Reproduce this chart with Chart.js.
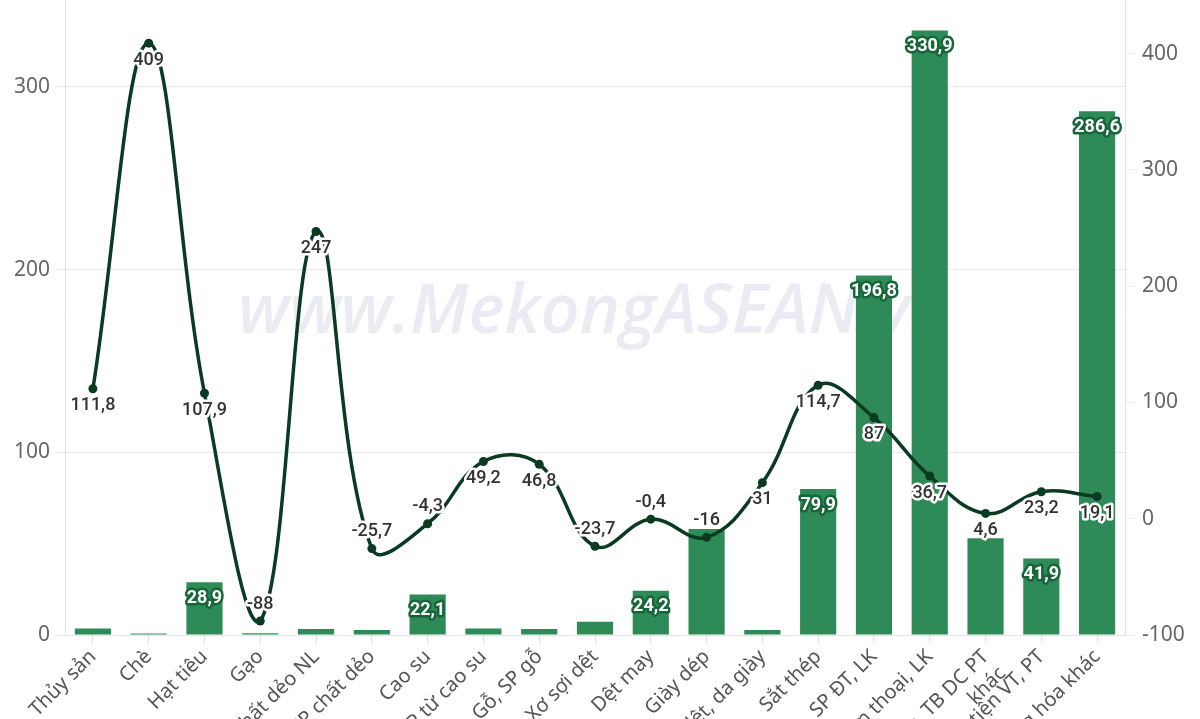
<!DOCTYPE html>
<html><head><meta charset="utf-8">
<script src="https://cdn.jsdelivr.net/npm/chart.js@4"></script>
<style>
html,body{margin:0;padding:0;background:#fff;overflow:hidden;width:1200px;height:719px;}
#wrap{position:absolute;left:0;top:-9px;width:1200px;height:900px;}
</style></head><body>
<div id="wrap"><canvas id="c" width="1200" height="900"></canvas></div>
<script>
const categories = ["Thủy sản","Chè","Hạt tiêu","Gạo","Chất dẻo NL","SP chất dẻo","Cao su","SP từ cao su","Gỗ, SP gỗ","Xơ sợi dệt","Dệt may","Giày dép","NPL dệt, da giày","Sắt thép","Máy vi tính, SP ĐT, LK","Điện thoại, LK",["Máy móc, TB DC PT","khác"],"Phương tiện VT, PT","Hàng hóa khác"];
const barValues = [3.6,0.8,28.9,0.9,3.3,2.7,22.1,3.6,3.3,7.2,24.2,58,2.7,79.9,196.8,330.9,53,41.9,286.6];
const lineValues = [111.8,409,107.9,-88,247,-25.7,-4.3,49.2,46.8,-23.7,-0.4,-16,31,114.7,87,36.7,4.6,23.2,19.1];
const leftTicks = [0,100,200,300];
const rightTicks = [-100,0,100,200,300,400];
const watermarkText = "www.MekongASEAN.vn";

const fmt = v => String(v).replace('.', ',');
const BAR = 'rgb(46,139,87)';
const LINE = '#0a3a22';

const watermark = {
  id:'watermark',
  beforeDatasetsDraw(chart){
    const ctx = chart.ctx;
    ctx.save();
    let size = 62;
    ctx.font = `italic 600 ${size}px "Open Sans"`;
    const w = ctx.measureText(watermarkText).width;
    size = size * 712 / w;
    ctx.font = `italic 600 ${size}px "Open Sans"`;
    ctx.fillStyle = '#ebecf3';
    ctx.textAlign = 'left';
    ctx.textBaseline = 'alphabetic';
    ctx.fillText(watermarkText, 238, 342);
    ctx.restore();
  }
};

const labels = {
  id:'valueLabels',
  afterDatasetsDraw(chart){
    const ctx = chart.ctx, area = chart.chartArea;
    const barMeta = chart.getDatasetMeta(0), lineMeta = chart.getDatasetMeta(1);
    ctx.save();
    ctx.textAlign = 'center'; ctx.textBaseline = 'middle'; ctx.lineJoin = 'round';
    ctx.font = '500 18px Roboto';
    const lineBoxes = lineMeta.data.map((pt,i)=>{
      const v = lineValues[i];
      const y = pt.y + (v < 0 ? -17 : 17);
      const t = fmt(v);
      return {x:pt.x, y, t, w:ctx.measureText(t).width, h:20};
    });
    ctx.font = '700 18px Roboto';
    barMeta.data.forEach((bar,i)=>{
      const t = fmt(barValues[i]);
      const y = bar.y + 16;
      const w = ctx.measureText(t).width, h = 20;
      if (y + h/2 > area.bottom) return;
      const pad = 6;
      const hit = lineBoxes.some(b => Math.abs(b.x - bar.x) < (b.w + w)/2 + pad && Math.abs(b.y - y) < (b.h + h)/2 + pad);
      if (hit) return;
      ctx.strokeStyle = '#17663a'; ctx.lineWidth = 5;
      ctx.strokeText(t, bar.x, y);
      ctx.fillStyle = '#ffffff';
      ctx.fillText(t, bar.x, y);
    });
    ctx.font = '500 18px Roboto';
    lineBoxes.forEach(b=>{
      ctx.strokeStyle = '#ffffff'; ctx.lineWidth = 5;
      ctx.strokeText(b.t, b.x, b.y);
      ctx.fillStyle = '#333333';
      ctx.fillText(b.t, b.x, b.y);
    });
    ctx.restore();
  }
};

function noPad(s){ s.paddingTop = 0; s.paddingBottom = 0; }

new Chart(document.getElementById('c'), {
  data: {
    labels: categories,
    datasets: [
      {type:'bar', data: barValues, backgroundColor: BAR, yAxisID:'y', order:2,
       barPercentage: 0.9, categoryPercentage: 0.72},
      {type:'line', data: lineValues, borderColor: LINE, backgroundColor: LINE, borderWidth: 3.5,
       tension: 0.4, pointRadius: 4.5, pointBackgroundColor: LINE, pointBorderWidth: 0,
       yAxisID:'y1', order:1, clip: false}
    ]
  },
  options: {
    responsive: false, animation: false, devicePixelRatio: 1,
    layout: {padding: 0},
    plugins: {legend:{display:false}, tooltip:{enabled:false}},
    scales: {
      x: {
        offset: true,
        grid: {drawOnChartArea:false, offset:false, tickLength:8, color:'#dddddd'},
        border: {display:true, color:'#e3e3e3'},
        ticks: {minRotation:45, maxRotation:45, autoSkip:false, padding:2,
                color:'#555555', font:{family:'"Noto Sans"', size:20}},
        afterFit(s){ s.height = 256; s.paddingLeft = 0; s.paddingRight = 0; }
      },
      y: {
        position:'left', min:0, max:350,
        afterBuildTicks(s){ s.ticks = leftTicks.map(v=>({value:v})); },
        grid: {color:'#e9e9e9', tickLength:10},
        border: {display:true, color:'#e3e3e3'},
        ticks: {padding:5, color:'#666666', font:{family:'"Noto Sans"', size:21}},
        afterFit(s){ s.width = 65; noPad(s); }
      },
      y1: {
        position:'right', min:-100, max:450,
        afterBuildTicks(s){ s.ticks = rightTicks.map(v=>({value:v})); },
        grid: {drawOnChartArea:false, color:'#eeeeee', tickLength:10},
        border: {display:true, color:'#e3e3e3'},
        ticks: {padding:7, color:'#666666', font:{family:'"Noto Sans"', size:21}},
        afterFit(s){ s.width = 75; noPad(s); }
      }
    }
  },
  plugins: [watermark, labels]
});
</script>
</body></html>
